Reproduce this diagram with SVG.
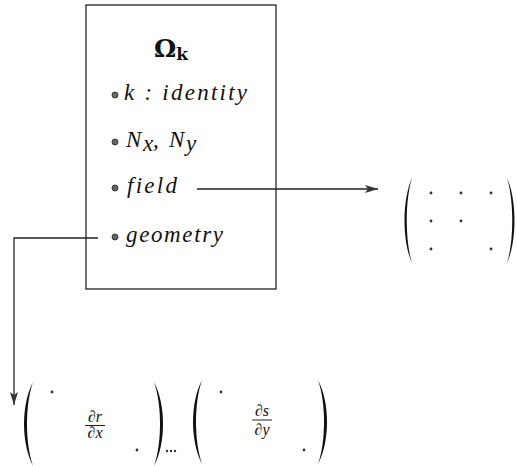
<svg xmlns="http://www.w3.org/2000/svg" width="517" height="466" viewBox="0 0 517 466">
<style>
.t{font-family:"Liberation Serif","DejaVu Serif",serif;font-style:italic;font-size:23px;fill:#111}
.b{font-family:"DejaVu Serif","Liberation Serif",serif;font-weight:bold;fill:#111}
.fr{font-family:"Liberation Serif","DejaVu Serif",serif;font-style:italic;font-size:16px;fill:#111}
.ln{fill:none;stroke:#222;stroke-width:1.3}
.dot{fill:#333}
.bul{fill:#666;stroke:#222;stroke-width:0.8}
.par{fill:#111}
</style>
<defs>
<marker id="ah" markerUnits="userSpaceOnUse" markerWidth="14" markerHeight="10" refX="13" refY="5" orient="auto">
<path d="M0,1 L13,5 L0,9 L3,5 Z" fill="#333"/>
</marker>
</defs>
<rect width="517" height="466" fill="#fff"/>
<g id="omega">
<rect x="86" y="5" width="190" height="284" class="ln"/>
<text class="b" x="154" y="57" font-size="25">Ω<tspan font-size="17" dy="3">k</tspan></text>
<circle class="bul" cx="115" cy="95" r="3"/>
<text class="t" x="124" y="100" textLength="123" lengthAdjust="spacing">k : identity</text>
<circle class="bul" cx="115" cy="142" r="3"/>
<text class="t" x="126" y="147">N</text>
<text class="t" x="143" y="151" font-size="15">x</text>
<text class="t" x="153" y="147">,</text>
<text class="t" x="169" y="147">N</text>
<text class="t" x="186" y="151" font-size="15">y</text>
<circle class="bul" cx="115" cy="188" r="3"/>
<text class="t" x="127" y="193" textLength="50" lengthAdjust="spacing">field</text>
<circle class="bul" cx="115" cy="237" r="3"/>
<text class="t" x="126" y="242" textLength="97" lengthAdjust="spacing">geometry</text>
</g>
<g id="connectors">
<line x1="197" y1="189" x2="378" y2="189" class="ln" marker-end="url(#ah)"/>
<polyline points="98,238 14,238 14,405" class="ln" marker-end="url(#ah)"/>
</g>
<g id="field-matrix">
<path class="par" d="M412,178 C402,200 402,241 412,263 C405,241 405,200 412,178 Z"/>
<path class="par" d="M507,178 C517,200 517,241 507,263 C514,241 514,200 507,178 Z"/>
<circle class="dot" cx="431" cy="193" r="1.4"/>
<circle class="dot" cx="461" cy="193" r="1.4"/>
<circle class="dot" cx="491" cy="193" r="1.4"/>
<circle class="dot" cx="431" cy="221" r="1.4"/>
<circle class="dot" cx="461" cy="221" r="1.4"/>
<circle class="dot" cx="431" cy="249" r="1.4"/>
<circle class="dot" cx="491" cy="249" r="1.4"/>
</g>
<g id="drdx-matrix">
<path class="par" d="M33,382 C21,405 21,443 33,466 C25,443 25,405 33,382 Z"/>
<path class="par" d="M154,382 C166,405 166,443 154,466 C162,443 162,405 154,382 Z"/>
<circle class="dot" cx="52" cy="392" r="1.4"/>
<circle class="dot" cx="137" cy="450" r="1.4"/>
<text class="fr" x="95" y="422" text-anchor="middle">∂r</text>
<line x1="85" y1="425.5" x2="105" y2="425.5" stroke="#222" stroke-width="1"/>
<text class="fr" x="95" y="438" text-anchor="middle">∂x</text>
<circle class="dot" cx="167" cy="451" r="1.2"/>
<circle class="dot" cx="171" cy="451" r="1.2"/>
<circle class="dot" cx="175" cy="451" r="1.2"/>
</g>
<g id="dsdy-matrix">
<path class="par" d="M202,380 C190,403 190,441 202,464 C194,441 194,403 202,380 Z"/>
<path class="par" d="M318,380 C330,403 330,441 318,464 C326,441 326,403 318,380 Z"/>
<circle class="dot" cx="221" cy="392" r="1.4"/>
<circle class="dot" cx="304" cy="450" r="1.4"/>
<text class="fr" x="262" y="416" text-anchor="middle">∂s</text>
<line x1="252" y1="420" x2="272" y2="420" stroke="#222" stroke-width="1"/>
<text class="fr" x="262" y="435" text-anchor="middle">∂y</text>
</g>
</svg>
